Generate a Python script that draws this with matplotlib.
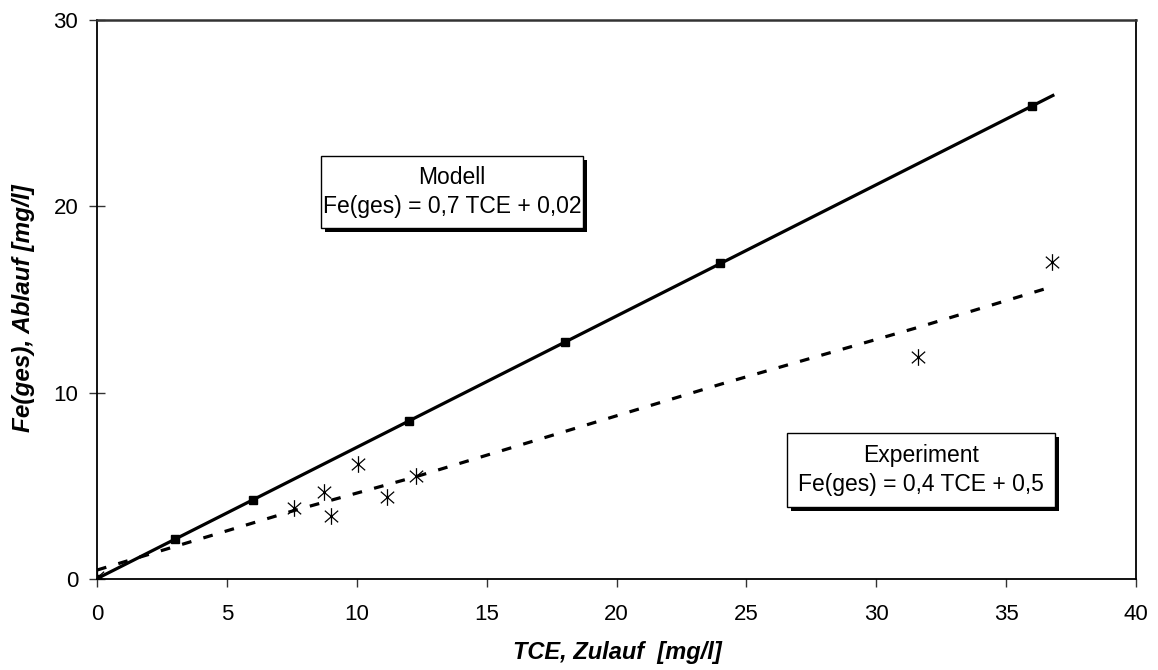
import matplotlib
matplotlib.use("Agg")
import matplotlib.pyplot as plt
from matplotlib.patches import Rectangle
from matplotlib.path import Path

plt.rcParams['font.family'] = ['Liberation Sans', 'DejaVu Sans']
plt.rcParams['lines.scale_dashes'] = False

# Model (solid line with square markers)
model_x = [0, 3, 6, 12, 18, 24, 36]
model_y = [0.02, 2.13, 4.25, 8.48, 12.71, 16.95, 25.4]
model_line_x = [0, 36.8]
model_line_y = [0.02, 25.95]

# Experiment (asterisks)
exp_x = [0, 7.59, 8.75, 8.99, 10.03, 11.15, 12.3, 31.59, 36.77]
exp_y = [0.1, 3.79, 4.65, 3.38, 6.16, 4.38, 5.53, 11.9, 17.03]

# Experiment fit (dashed polyline)
fit_x = [0, 7.6, 12.3, 24.0, 31.6, 36.8]
fit_y = [0.48, 3.68, 5.5, 10.45, 13.5, 15.7]

x_ticks = [0, 5, 10, 15, 20, 25, 30, 35, 40]
y_ticks = [0, 10, 20, 30]

W, H = 1158, 670
fig = plt.figure(figsize=(W / 100, H / 100), dpi=100)
L, R, T, B = 97, 1136, 20, 579
ax = fig.add_axes([L / W, 1 - B / H, (R - L) / W, (B - T) / H])

star = Path([(0, -1), (0, 1), (-0.8, -0.7), (0.8, 0.7), (-0.8, 0.7), (0.8, -0.7)],
            [Path.MOVETO, Path.LINETO, Path.MOVETO, Path.LINETO, Path.MOVETO, Path.LINETO])

ax.plot(fit_x, fit_y, color='black', lw=2.3, linestyle=(0, (7, 9)), zorder=3)
ax.plot(model_line_x, model_line_y, color='black', lw=2.3, zorder=4)
ax.plot(model_x, model_y, linestyle='none', marker='s', markersize=6,
        color='black', zorder=5)
ax.plot(exp_x, exp_y, linestyle='none', marker=star, markersize=12,
        markeredgewidth=0.9, color='black', fillstyle='none', zorder=6)

ax.set_xlim(0, 40)
ax.set_ylim(0, 30)
ax.set_xticks(x_ticks)
ax.set_yticks(y_ticks)
ax.tick_params(axis='x', direction='out', length=6, width=1, pad=12,
               labelsize=16, color='#333333')
ax.tick_params(axis='y', direction='inout', length=11, width=1, pad=8,
               labelsize=16, color='#333333')
for s in ax.spines.values():
    s.set_linewidth(1.3)
    s.set_color('black')
ax.spines['top'].set_linewidth(1.8)
ax.spines['top'].set_color('#333333')

fig.text(617 / W, 1 - 652 / H, 'TCE, Zulauf  [mg/l]', ha='center', va='center',
         fontsize=17, fontweight='bold', fontstyle='italic')
fig.text(24 / W, 1 - 308 / H, 'Fe(ges), Ablauf [mg/l]', ha='center', va='center',
         rotation=90, fontsize=17.5, fontweight='bold', fontstyle='italic')

def box(x0, y0, x1, y1, lines):
    sh = 4
    fig.patches.append(Rectangle(((x0 + sh) / W, 1 - (y1 + sh) / H),
                                 (x1 - x0) / W, (y1 - y0) / H,
                                 transform=fig.transFigure, facecolor='black',
                                 edgecolor='black', lw=0, zorder=10))
    fig.patches.append(Rectangle((x0 / W, 1 - y1 / H), (x1 - x0) / W, (y1 - y0) / H,
                                 transform=fig.transFigure, facecolor='white',
                                 edgecolor='black', lw=1.0, zorder=11))
    cx = (x0 + x1) / 2
    n = len(lines)
    h = (y1 - y0)
    for i, t in enumerate(lines):
        yy = y0 + h * (i + 0.75) / (n + 0.5)
        fig.text(cx / W, 1 - yy / H, t, ha='center', va='center',
                 fontsize=16.5, zorder=12)

box(321, 156, 583, 228, ['Modell', 'Fe(ges) = 0,7 TCE + 0,02'])
box(787, 433, 1055, 507, ['Experiment', 'Fe(ges) = 0,4 TCE + 0,5'])

fig.savefig('out.png', dpi=100)
